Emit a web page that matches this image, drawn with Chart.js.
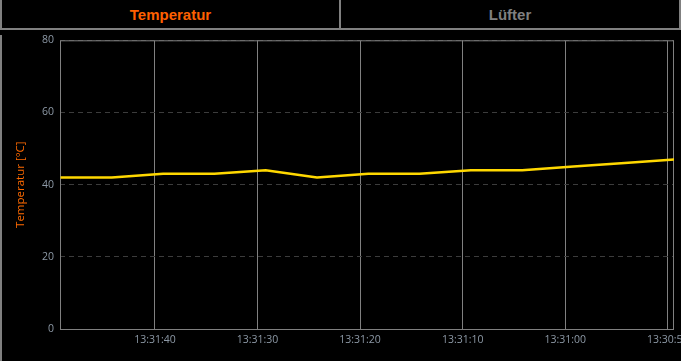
<!DOCTYPE html>
<html>
<head>
<meta charset="utf-8">
<script src="https://cdn.jsdelivr.net/npm/chart.js@4.4.1/dist/chart.umd.min.js"></script>
<style>
  html, body { margin: 0; padding: 0; background: #000; width: 681px; height: 361px; overflow: hidden; }
  .line { position: absolute; background: #808080; }
  .tab { position: absolute; top: 0; height: 28px; line-height: 29px; text-align: center;
         font-family: "Liberation Sans Narrow", "Liberation Sans", sans-serif; font-weight: bold; font-size: 15px; }
  #wrap { position: absolute; left: 0; top: 28px; width: 681px; height: 333px; }
</style>
</head>
<body>
<div class="tab" style="left:2px;width:337px;color:#ff6000;">Temperatur</div>
<div class="tab" style="left:341px;width:338px;color:#808080;">Lüfter</div>
<div class="line" style="left:0;top:0;width:2px;height:28px;"></div>
<div class="line" style="left:339px;top:0;width:2px;height:28px;"></div>
<div class="line" style="left:679px;top:0;width:2px;height:28px;"></div>
<div class="line" style="left:0;top:28px;width:681px;height:2px;"></div>
<div class="line" style="left:0;top:35px;width:2px;height:326px;"></div>
<div id="wrap"><canvas id="tempChart"></canvas></div>
<script>
// seconds after 13:30:00, newest first
const times = [109.2, 104.2, 99.2, 94.2, 89.2, 84.2, 79.2, 74.2, 69.2, 64.2, 59.2, 54.2, 49.2];
const temps = [42, 42, 43, 43, 44, 42, 43, 43, 44, 44, 45, 46, 47];
const tickSeconds = [100, 90, 80, 70, 60, 50];

const fmtTime = (v) => {
  const m = 30 + Math.floor(v / 60);
  const s = Math.round(v % 60);
  return "13:" + m + ":" + String(s).padStart(2, "0");
};

// box around the plot area
const frame = {
  id: "frame",
  beforeDatasetsDraw(chart) {
    const { ctx, chartArea: a } = chart;
    ctx.save();
    ctx.strokeStyle = "#808080";
    ctx.lineWidth = 1;
    ctx.strokeRect(a.left + 0.5, a.top + 0.5, a.right - a.left - 1, a.bottom - a.top);
    ctx.restore();
  },
};

const tickFont = { family: "'Open Sans', sans-serif", size: 10.5 };

new Chart(document.getElementById("tempChart").getContext("2d"), {
  type: "line",
  data: {
    datasets: [
      {
        label: "Temperatur",
        data: times.map((t, i) => ({ x: t, y: temps[i] })),
        borderColor: "#ffd800",
        borderWidth: 2.5,
        pointRadius: 0,
        tension: 0,
      },
    ],
  },
  options: {
    responsive: true,
    maintainAspectRatio: false,
    animation: false,
    layout: { padding: { top: 11, right: 7, left: 0, bottom: 0 } },
    plugins: { legend: { display: false }, tooltip: { enabled: false } },
    scales: {
      x: {
        type: "linear",
        reverse: true,
        min: 49.4,
        max: 109.25,
        afterBuildTicks: (axis) => {
          axis.ticks = tickSeconds.map((v) => ({ value: v }));
        },
        afterFit: (s) => {
          s.height = 32;
          s.paddingRight = 0;
          s.paddingLeft = 0;
        },
        ticks: {
          color: "#8d99a6",
          font: tickFont,
          padding: 5,
          maxRotation: 0,
          minRotation: 0,
          autoSkip: false,
          callback: (v) => fmtTime(v),
        },
        grid: { color: "#808080", lineWidth: 1, drawTicks: false },
        border: { display: false },
      },
      y: {
        min: 0,
        max: 80,
        afterFit: (s) => {
          s.width = 60;
        },
        ticks: { stepSize: 20, color: "#8d99a6", font: tickFont, padding: 6 },
        grid: { color: "#3c3c3c", drawTicks: false },
        border: { display: false, dash: [5, 4] },
        title: {
          display: true,
          text: "Temperatur [°C]",
          color: "#ff6a00",
          font: { family: "'Open Sans', sans-serif", size: 11.5 },
          padding: { top: 14, bottom: 0 },
        },
      },
    },
  },
  plugins: [frame],
});
</script>
</body>
</html>
